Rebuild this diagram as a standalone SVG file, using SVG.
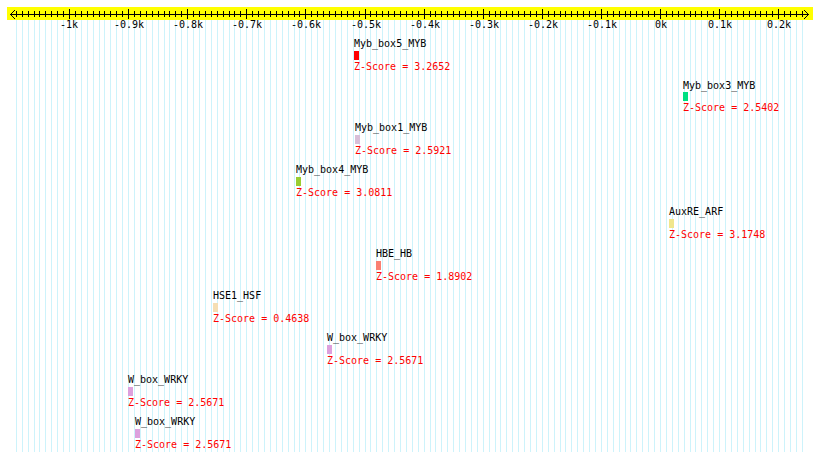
<svg xmlns="http://www.w3.org/2000/svg" width="820" height="461" viewBox="0 0 820 461">
<style>
.t{font-family:"DejaVu Sans Mono","Liberation Mono",monospace;font-size:10px;fill:#000}
.z{font-family:"DejaVu Sans Mono","Liberation Mono",monospace;font-size:10px;fill:#ff0000}
.ax{font-family:"DejaVu Sans Mono","Liberation Mono",monospace;font-size:10px;fill:#000;text-anchor:middle}
.stripe{stroke:#cdf3fb;stroke-width:1;fill:none;shape-rendering:crispEdges}
.tick{stroke:#000;stroke-width:1;fill:none;shape-rendering:crispEdges}
</style>
<rect x="0" y="0" width="820" height="461" fill="#ffffff"/>
<g id="stripes">
<path class="stripe" d="M16.5 20V452M22.5 20V452M28.5 20V452M34.5 20V452M39.5 20V452M45.5 20V452M51.5 20V452M57.5 20V452M63.5 20V452M69.5 20V452M75.5 20V452M81.5 20V452M87.5 20V452M93.5 20V452M99.5 20V452M104.5 20V452M110.5 20V452M116.5 20V452M122.5 20V452M128.5 20V452M134.5 20V452M140.5 20V452M146.5 20V452M152.5 20V452M158.5 20V452M164.5 20V452M169.5 20V452M175.5 20V452M181.5 20V452M187.5 20V452M193.5 20V452M199.5 20V452M205.5 20V452M211.5 20V452M217.5 20V452M223.5 20V452M229.5 20V452M234.5 20V452M240.5 20V452M246.5 20V452M252.5 20V452M258.5 20V452M264.5 20V452M270.5 20V452M276.5 20V452M282.5 20V452M288.5 20V452M294.5 20V452M299.5 20V452M305.5 20V452M311.5 20V452M317.5 20V452M323.5 20V452M329.5 20V452M335.5 20V452M341.5 20V452M347.5 20V452M353.5 20V452M359.5 20V452M365.5 20V452M370.5 20V452M376.5 20V452M382.5 20V452M388.5 20V452M394.5 20V452M400.5 20V452M406.5 20V452M412.5 20V452M418.5 20V452M424.5 20V452M430.5 20V452M435.5 20V452M441.5 20V452M447.5 20V452M453.5 20V452M459.5 20V452M465.5 20V452M471.5 20V452M477.5 20V452M483.5 20V452M489.5 20V452M495.5 20V452M500.5 20V452M506.5 20V452M512.5 20V452M518.5 20V452M524.5 20V452M530.5 20V452M536.5 20V452M542.5 20V452M548.5 20V452M554.5 20V452M560.5 20V452M565.5 20V452M571.5 20V452M577.5 20V452M583.5 20V452M589.5 20V452M595.5 20V452M601.5 20V452M607.5 20V452M613.5 20V452M619.5 20V452M625.5 20V452M630.5 20V452M636.5 20V452M642.5 20V452M648.5 20V452M654.5 20V452M660.5 20V452M666.5 20V452M672.5 20V452M678.5 20V452M684.5 20V452M690.5 20V452M695.5 20V452M701.5 20V452M707.5 20V452M713.5 20V452M719.5 20V452M725.5 20V452M731.5 20V452M737.5 20V452M743.5 20V452M749.5 20V452M755.5 20V452M760.5 20V452M766.5 20V452M772.5 20V452M778.5 20V452M784.5 20V452M790.5 20V452M796.5 20V452M802.5 20V452"/>
</g>
<g id="axis">
<rect x="7" y="7" width="806" height="13" fill="#ffff00"/>
<path class="tick" d="M10 14.5H809"/>
<path class="tick" d="M16.5 11V17M22.5 11V17M28.5 11V17M34.5 11V17M39.5 11V17M45.5 11V17M51.5 11V17M57.5 11V17M63.5 11V17M75.5 11V17M81.5 11V17M87.5 11V17M93.5 11V17M99.5 11V17M104.5 11V17M110.5 11V17M116.5 11V17M122.5 11V17M134.5 11V17M140.5 11V17M146.5 11V17M152.5 11V17M158.5 11V17M164.5 11V17M169.5 11V17M175.5 11V17M181.5 11V17M193.5 11V17M199.5 11V17M205.5 11V17M211.5 11V17M217.5 11V17M223.5 11V17M229.5 11V17M234.5 11V17M240.5 11V17M252.5 11V17M258.5 11V17M264.5 11V17M270.5 11V17M276.5 11V17M282.5 11V17M288.5 11V17M294.5 11V17M299.5 11V17M311.5 11V17M317.5 11V17M323.5 11V17M329.5 11V17M335.5 11V17M341.5 11V17M347.5 11V17M353.5 11V17M359.5 11V17M370.5 11V17M376.5 11V17M382.5 11V17M388.5 11V17M394.5 11V17M400.5 11V17M406.5 11V17M412.5 11V17M418.5 11V17M430.5 11V17M435.5 11V17M441.5 11V17M447.5 11V17M453.5 11V17M459.5 11V17M465.5 11V17M471.5 11V17M477.5 11V17M489.5 11V17M495.5 11V17M500.5 11V17M506.5 11V17M512.5 11V17M518.5 11V17M524.5 11V17M530.5 11V17M536.5 11V17M548.5 11V17M554.5 11V17M560.5 11V17M565.5 11V17M571.5 11V17M577.5 11V17M583.5 11V17M589.5 11V17M595.5 11V17M607.5 11V17M613.5 11V17M619.5 11V17M625.5 11V17M630.5 11V17M636.5 11V17M642.5 11V17M648.5 11V17M654.5 11V17M666.5 11V17M672.5 11V17M678.5 11V17M684.5 11V17M690.5 11V17M695.5 11V17M701.5 11V17M707.5 11V17M713.5 11V17M725.5 11V17M731.5 11V17M737.5 11V17M743.5 11V17M749.5 11V17M755.5 11V17M760.5 11V17M766.5 11V17M772.5 11V17M784.5 11V17M790.5 11V17M796.5 11V17M802.5 11V17"/>
<path class="tick" d="M69.5 9V19M128.5 9V19M187.5 9V19M246.5 9V19M305.5 9V19M365.5 9V19M424.5 9V19M483.5 9V19M542.5 9V19M601.5 9V19M660.5 9V19M719.5 9V19M778.5 9V19"/>
<polyline points="15,10 10.5,14.5 15,19" fill="none" stroke="#000" stroke-width="1"/>
<polyline points="804,10 808.5,14.5 804,19" fill="none" stroke="#000" stroke-width="1"/>
<text class="ax" x="69" y="28">-1k</text>
<text class="ax" x="129" y="28">-0.9k</text>
<text class="ax" x="188" y="28">-0.8k</text>
<text class="ax" x="247" y="28">-0.7k</text>
<text class="ax" x="306" y="28">-0.6k</text>
<text class="ax" x="366" y="28">-0.5k</text>
<text class="ax" x="425" y="28">-0.4k</text>
<text class="ax" x="484" y="28">-0.3k</text>
<text class="ax" x="543" y="28">-0.2k</text>
<text class="ax" x="602" y="28">-0.1k</text>
<text class="ax" x="661" y="28">0k</text>
<text class="ax" x="720" y="28">0.1k</text>
<text class="ax" x="779" y="28">0.2k</text>
</g>
<g id="connectors"/>
<g id="node-myb-box5">
<text class="t" x="354" y="47">Myb_box5_MYB</text>
<rect x="354" y="51" width="5" height="9" fill="#ff0000"/>
<text class="z" x="354" y="70">Z-Score = 3.2652</text>
</g>
<g id="node-myb-box3">
<text class="t" x="683" y="89">Myb_box3_MYB</text>
<rect x="683" y="92" width="5" height="9" fill="#00e080"/>
<text class="z" x="683" y="111">Z-Score = 2.5402</text>
</g>
<g id="node-myb-box1">
<text class="t" x="355" y="131">Myb_box1_MYB</text>
<rect x="355" y="135" width="5" height="9" fill="#d8bfd8"/>
<text class="z" x="355" y="154">Z-Score = 2.5921</text>
</g>
<g id="node-myb-box4">
<text class="t" x="296" y="173">Myb_box4_MYB</text>
<rect x="296" y="177" width="5" height="9" fill="#9acd32"/>
<text class="z" x="296" y="196">Z-Score = 3.0811</text>
</g>
<g id="node-auxre">
<text class="t" x="669" y="215">AuxRE_ARF</text>
<rect x="669" y="219" width="5" height="9" fill="#f0e68c"/>
<text class="z" x="669" y="238">Z-Score = 3.1748</text>
</g>
<g id="node-hbe">
<text class="t" x="376" y="257">HBE_HB</text>
<rect x="376" y="261" width="5" height="9" fill="#fa8072"/>
<text class="z" x="376" y="280">Z-Score = 1.8902</text>
</g>
<g id="node-hse1">
<text class="t" x="213" y="299">HSE1_HSF</text>
<rect x="213" y="303" width="5" height="9" fill="#f5deb3"/>
<text class="z" x="213" y="322">Z-Score = 0.4638</text>
</g>
<g id="node-wbox-1">
<text class="t" x="327" y="341">W_box_WRKY</text>
<rect x="327" y="345" width="5" height="9" fill="#dda0dd"/>
<text class="z" x="327" y="364">Z-Score = 2.5671</text>
</g>
<g id="node-wbox-2">
<text class="t" x="128" y="383">W_box_WRKY</text>
<rect x="128" y="387" width="5" height="9" fill="#dda0dd"/>
<text class="z" x="128" y="406">Z-Score = 2.5671</text>
</g>
<g id="node-wbox-3">
<text class="t" x="135" y="425">W_box_WRKY</text>
<rect x="135" y="429" width="5" height="9" fill="#dda0dd"/>
<text class="z" x="135" y="448">Z-Score = 2.5671</text>
</g>
</svg>
